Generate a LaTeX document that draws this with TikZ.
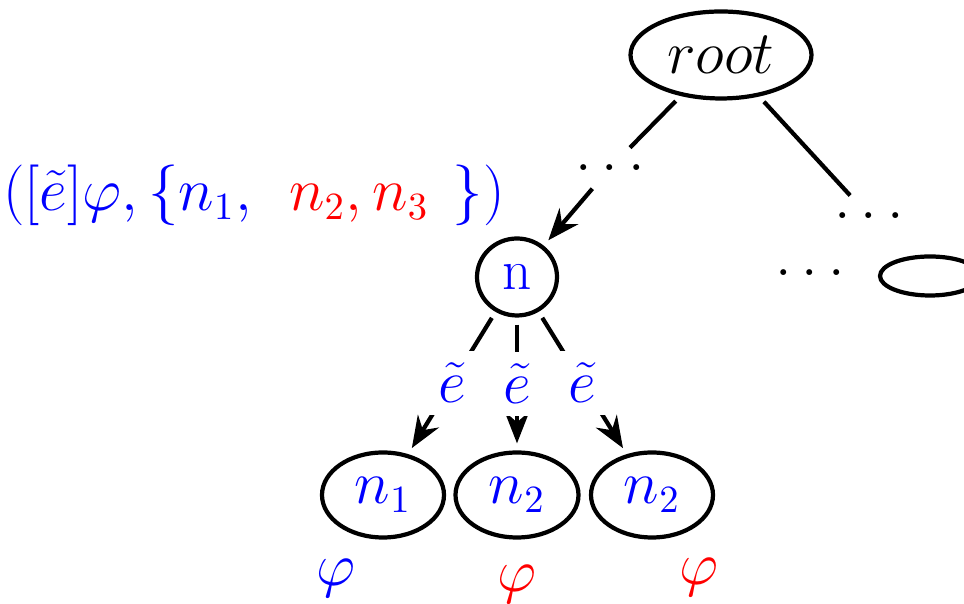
\documentclass[tikz,border=0pt]{standalone}
\usepackage{tikz}
\usetikzlibrary{arrows.meta, shapes.geometric}

\begin{document}
\begin{tikzpicture}[
    font=\fontsize{16.3}{20}\selectfont,
    st/.style={ellipse, draw, very thick, inner sep=0pt, minimum width=#1},
    edg/.style={very thick, shorten <=2pt, shorten >=2pt},
    arr/.style={edg, -{Stealth[length=9pt, width=7pt, inset=3pt]}},
    elbl/.style={fill=white, text=blue},
  ]
    \useasboundingbox (0, 0) rectangle (9.64, 6.04);

    % tree top
    \node[st=1.81cm, minimum height=0.87cm] (root) at (7.21, 5.49) {$root$};
    \node (dotsL) at (6.10, 4.36) {$\ldots$};
    \node (dotsR) at (8.69, 3.88) {$\ldots$};
    \node (dotsB) at (8.10, 3.31) {$\ldots$};
    \node[st=1.0cm, minimum height=0.39cm] (leaf) at (9.30, 3.28) {};

    \node[text=blue] (lab) at (2.54, 4.09)
      {$([\tilde{e}]\varphi,\{n_1,\ \,{\color{red}n_2,n_3}\ \mkern2mu\})$};

    % expanded node
    \node[st=0.80cm, minimum height=0.77cm, text=blue] (n) at (5.17, 3.27) {n};
    \node[st=1.22cm, minimum height=0.85cm, text=blue] (n1) at (3.83, 1.09) {$n_1$};
    \node[st=1.23cm, minimum height=0.85cm, text=blue] (n2) at (5.17, 1.09) {$n_2$};
    \node[st=1.22cm, minimum height=0.85cm, text=blue] (n3) at (6.52, 1.09) {$n_2$};

    \node[text=blue] (p1) at (3.36, 0.26) {$\varphi$};
    \node[text=red] (p2) at (5.17, 0.20) {$\varphi$};
    \node[text=red] (p3) at (6.99, 0.27) {$\varphi$};

    \draw[edg] (root) -- (dotsL);
    \draw[edg] (root) -- (dotsR);
    \draw[arr] (dotsL) -- (n);

    \draw[arr] (n) -- node[elbl] {$\tilde{e}$} (n1);
    \draw[arr] (n) -- node[elbl] {$\tilde{e}$} (n2);
    \draw[arr] (n) -- node[elbl] {$\tilde{e}$} (n3);
\end{tikzpicture}
\end{document}
